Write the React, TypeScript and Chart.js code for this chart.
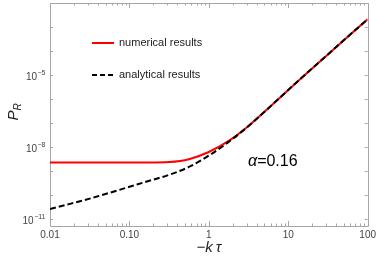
import React, { useEffect, useRef } from "react";
import { Chart, registerables } from "chart.js";

Chart.register(...registerables);

// -k tau values (log-spaced)
const kTau = [0.01, 0.0178, 0.0316, 0.0562, 0.1, 0.178, 0.316, 0.562, 1, 1.78, 3.16, 5.62, 10, 17.8, 31.6, 56.2, 100];
// P_R, numerical results (red solid)
const numerical = [2.29e-9, 2.29e-9, 2.29e-9, 2.29e-9, 2.29e-9, 2.29e-9, 2.4e-9, 3.16e-9, 6.31e-9, 1.82e-8, 7.59e-8, 4.17e-7, 2.4e-6, 1.35e-5, 7.24e-5, 3.98e-4, 2.09e-3];
// P_R, analytical results (black dashed)
const analytical = [2.69e-11, 4.37e-11, 7.24e-11, 1.26e-10, 2.24e-10, 3.98e-10, 7.08e-10, 1.51e-9, 4.47e-9, 1.66e-8, 7.59e-8, 4.17e-7, 2.4e-6, 1.35e-5, 7.24e-5, 3.98e-4, 2.09e-3];

const xTickValues = [0.01, 0.1, 1, 10, 100];
const xTickLabels = ["0.01", "0.10", "1", "10", "100"];
const yTickValues = [1e-11, 1e-8, 1e-5];
const yTickBase = "10";
const yTickExponents = ["\u221211", "\u22128", "\u22125"];
const yDecades = [-11, -10, -9, -8, -7, -6, -5, -4, -3, -2];
const legendLabels = ["numerical results", "analytical results"];
const alphaSymbol = "\u03B1";
const alphaText = "=0.16";
const xTitle = "\u2212k\u2009\u03C4";
const yTitleMain = "P";
const yTitleSub = "R";

const FONT = "'Liberation Sans', Arial, sans-serif";
const FRAME = "#a6a6a6";

const decorPlugin = {
  id: "decor",
  beforeDatasetsDraw(chart: any) {
    const { ctx, chartArea } = chart;
    const { left, right, top, bottom } = chartArea;
    const xs = chart.scales.x;
    const ys = chart.scales.y;
    ctx.save();
    ctx.strokeStyle = FRAME;
    ctx.lineWidth = 1;
    ctx.beginPath();
    ctx.rect(Math.round(left) + 0.5, Math.round(top) + 0.5, Math.round(right - left), Math.round(bottom - top));
    ctx.stroke();
    ctx.beginPath();
    for (let d = -2; d <= 2; d++) {
      for (let m = 1; m <= 9; m++) {
        if (d === 2 && m > 1) break;
        const v = m * Math.pow(10, d);
        const px = Math.round(xs.getPixelForValue(v)) + 0.5;
        const len = m === 1 ? 5 : 2.5;
        ctx.moveTo(px, bottom);
        ctx.lineTo(px, bottom - len);
        ctx.moveTo(px, top);
        ctx.lineTo(px, top + len);
      }
    }
    yDecades.forEach((e) => {
      const py = Math.round(ys.getPixelForValue(Math.pow(10, e))) + 0.5;
      const len = e % 3 === 1 ? 5 : 3;
      ctx.moveTo(left, py);
      ctx.lineTo(left + len, py);
      ctx.moveTo(right, py);
      ctx.lineTo(right - len, py);
    });
    ctx.stroke();
    // y tick labels: 10 with raised exponent
    ctx.fillStyle = "#444";
    ctx.textBaseline = "alphabetic";
    ctx.textAlign = "left";
    yTickValues.forEach((v, i) => {
      const py = ys.getPixelForValue(v);
      ctx.font = `7px ${FONT}`;
      const ew = ctx.measureText(yTickExponents[i]).width;
      ctx.font = `10px ${FONT}`;
      const bw = ctx.measureText(yTickBase).width;
      const x0 = left - 5 - ew - bw;
      ctx.fillText(yTickBase, x0, py + 5);
      ctx.font = `7px ${FONT}`;
      ctx.fillText(yTickExponents[i], x0 + bw + 0.5, py - 0.5);
    });
    ctx.restore();
  },
  afterDraw(chart: any) {
    const { ctx, chartArea } = chart;
    const { left, right } = chartArea;
    ctx.save();
    // legend
    ctx.lineWidth = 2;
    ctx.strokeStyle = "#ff0000";
    ctx.beginPath();
    ctx.moveTo(92, 43);
    ctx.lineTo(114, 43);
    ctx.stroke();
    ctx.strokeStyle = "#000";
    ctx.setLineDash([5, 3]);
    ctx.beginPath();
    ctx.moveTo(92, 75);
    ctx.lineTo(114, 75);
    ctx.stroke();
    ctx.setLineDash([]);
    ctx.fillStyle = "#222";
    ctx.font = `11px ${FONT}`;
    ctx.textBaseline = "middle";
    ctx.textAlign = "left";
    ctx.fillText(legendLabels[0], 119, 43);
    ctx.fillText(legendLabels[1], 119, 75);
    // alpha annotation
    ctx.fillStyle = "#000";
    ctx.textBaseline = "alphabetic";
    ctx.font = `italic 16px ${FONT}`;
    ctx.fillText(alphaSymbol, 248, 166);
    const aw = ctx.measureText(alphaSymbol).width;
    ctx.font = `16px ${FONT}`;
    ctx.fillText(alphaText, 248 + aw, 166);
    // x title
    ctx.font = `italic 15px ${FONT}`;
    ctx.textAlign = "center";
    ctx.textBaseline = "middle";
    ctx.fillStyle = "#222";
    ctx.fillText(xTitle, (left + right) / 2, 248);
    // y title
    ctx.translate(13, 112);
    ctx.rotate(-Math.PI / 2);
    ctx.textAlign = "left";
    ctx.textBaseline = "alphabetic";
    ctx.font = `italic 15px ${FONT}`;
    const pw = ctx.measureText(yTitleMain).width;
    ctx.font = `italic 10px ${FONT}`;
    const rw = ctx.measureText(yTitleSub).width;
    const start = -(pw + rw) / 2;
    ctx.font = `italic 15px ${FONT}`;
    ctx.fillText(yTitleMain, start, 5);
    ctx.font = `italic 10px ${FONT}`;
    ctx.fillText(yTitleSub, start + pw, 8);
    ctx.restore();
  },
};

export default function App() {
  const ref = useRef<HTMLCanvasElement | null>(null);
  useEffect(() => {
    if (!ref.current) return;
    const chart = new Chart(ref.current, {
      type: "line",
      data: {
        datasets: [
          {
            label: legendLabels[1],
            data: kTau.map((x, i) => ({ x, y: analytical[i] })),
            borderColor: "#000",
            borderWidth: 2,
            borderDash: [6, 3],
            pointRadius: 0,
            cubicInterpolationMode: "monotone",
            order: 0,
          },
          {
            label: legendLabels[0],
            data: kTau.map((x, i) => ({ x, y: numerical[i] })),
            borderColor: "#ff0000",
            borderWidth: 2,
            pointRadius: 0,
            cubicInterpolationMode: "monotone",
            order: 1,
          },
        ],
      },
      options: {
        responsive: false,
        animation: false,
        devicePixelRatio: 1,
        layout: { padding: { top: 3, right: 9, left: 0, bottom: 0 } },
        plugins: { legend: { display: false }, tooltip: { enabled: false } },
        scales: {
          x: {
            type: "logarithmic",
            min: 0.01,
            max: 100,
            afterBuildTicks: (s: any) => {
              s.ticks = xTickValues.map((v) => ({ value: v }));
            },
            afterFit: (s: any) => {
              s.height = 35;
            },
            ticks: {
              autoSkip: false,
              maxRotation: 0,
              padding: 3,
              color: "#444",
              font: { size: 10, family: FONT },
              callback: (_v: any, i: number) => xTickLabels[i],
            },
            grid: { display: false, drawTicks: false },
            border: { display: false },
          },
          y: {
            type: "logarithmic",
            min: Math.pow(10, -11.28),
            max: 1e-2,
            afterBuildTicks: (s: any) => {
              s.ticks = yTickValues.map((v) => ({ value: v }));
            },
            afterFit: (s: any) => {
              s.width = 50;
            },
            ticks: {
              display: false,
            },
            grid: { display: false, drawTicks: false },
            border: { display: false },
          },
        },
      },
      plugins: [decorPlugin],
    });
    return () => chart.destroy();
  }, []);
  return (
    <div style={{ position: "fixed", left: 0, top: 0, width: 379, height: 261, background: "#fff" }}>
      <canvas ref={ref} width={379} height={261} style={{ display: "block" }} />
    </div>
  );
}
